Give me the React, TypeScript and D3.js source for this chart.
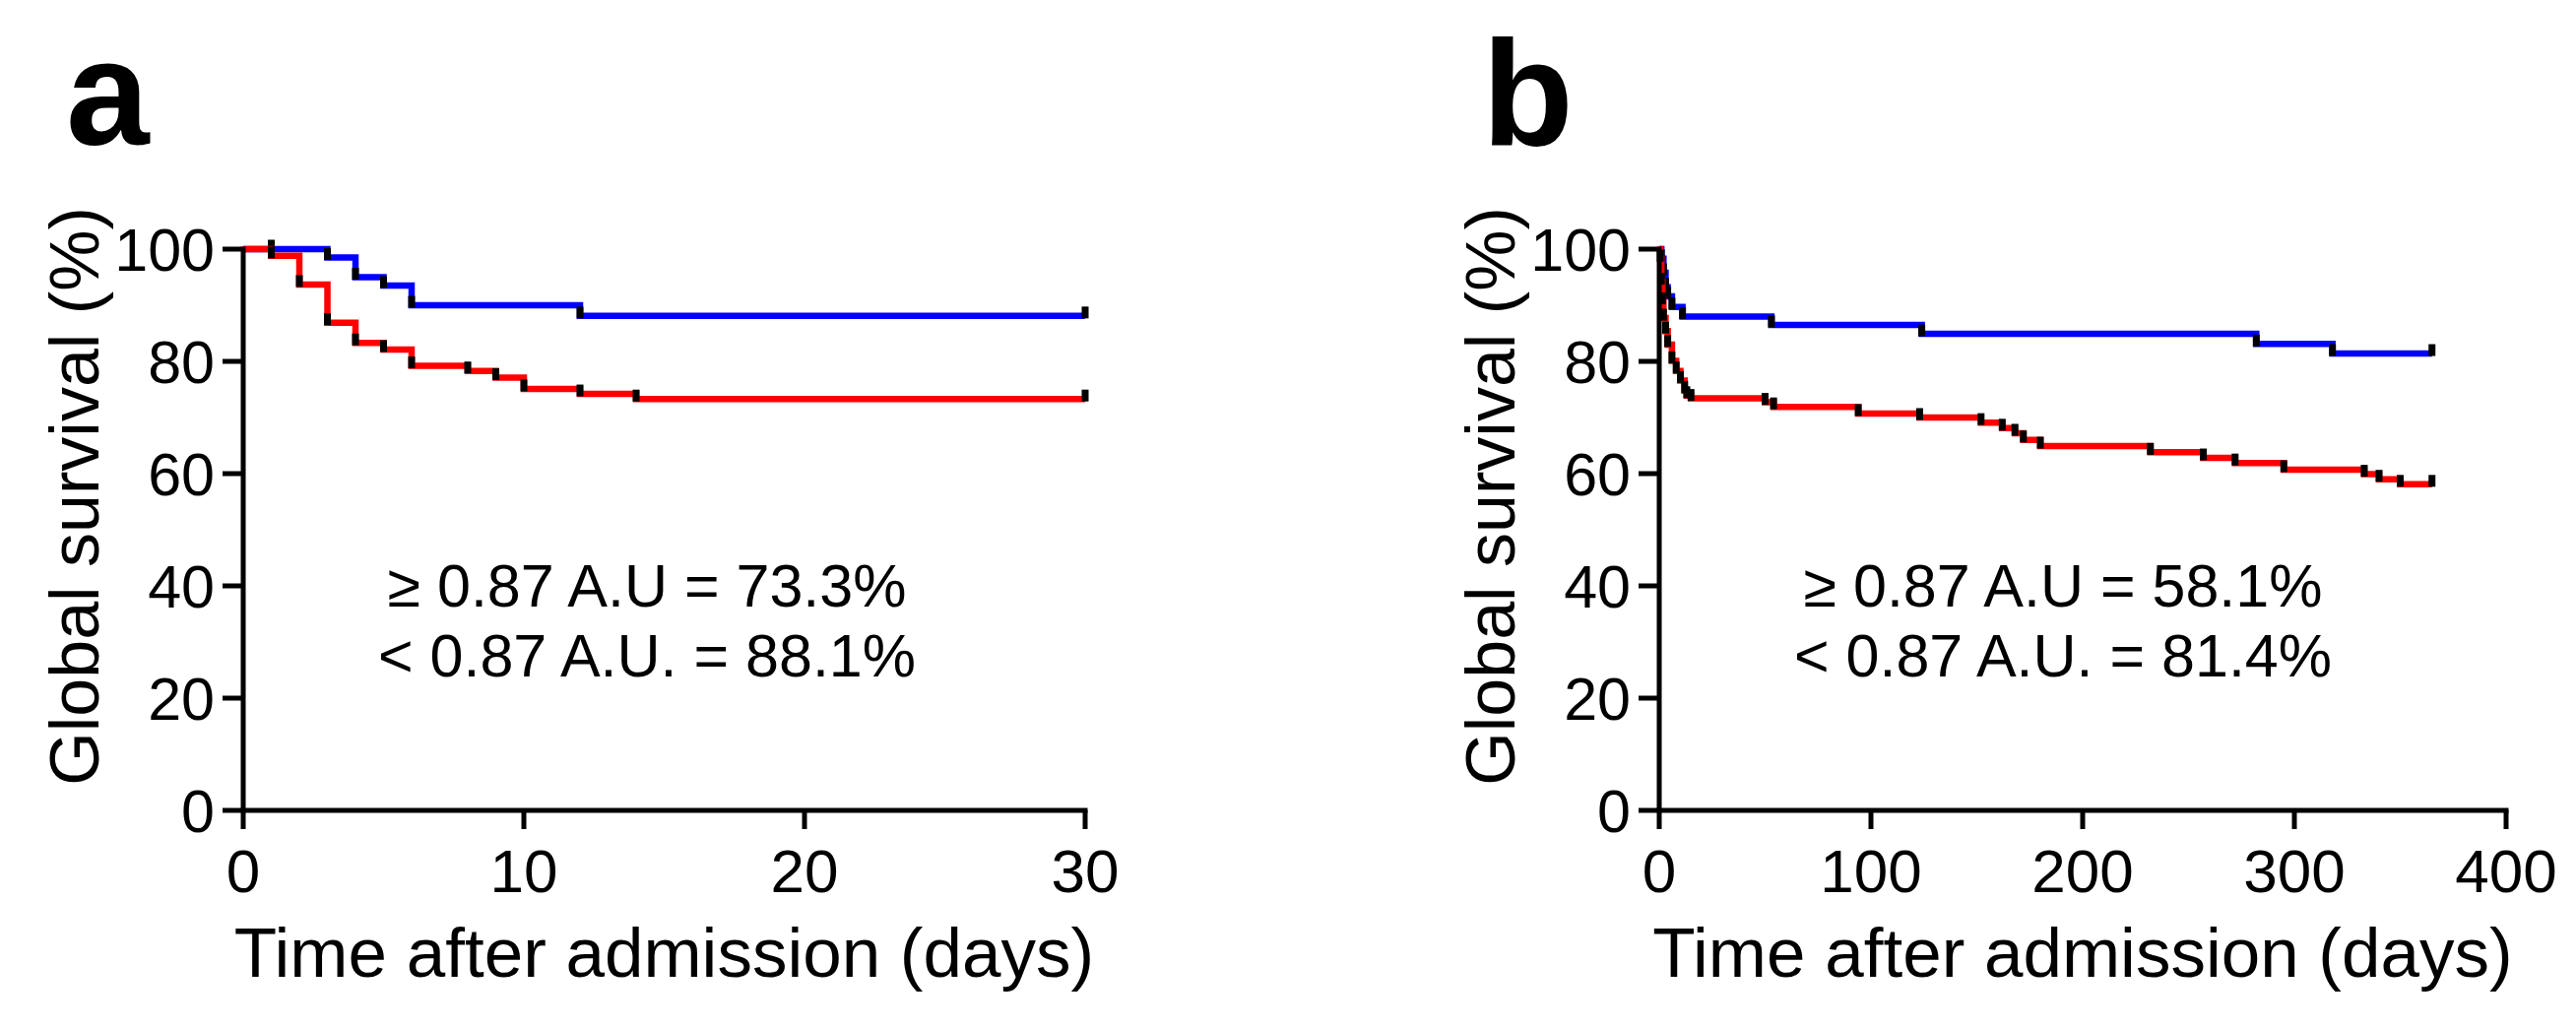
import React from "react";
import * as d3 from "d3";

// ---------- DATA ----------
const yTicks = [0, 20, 40, 60, 80, 100];
const xTicksA = [0, 10, 20, 30];
const xTicksB = [0, 100, 200, 300, 400];

// Panel a (30 days)
const blueADays = [0, 1, 3, 4, 5, 6, 12, 30];
const blueAVals = [100, 100, 98.5, 95.0, 93.5, 90.0, 88.1, 88.1];
const redADays = [0, 1, 2, 3, 4, 5, 6, 8, 9, 10, 12, 14, 30];
const redAVals = [100, 98.8, 93.7, 86.9, 83.3, 82.1, 79.2, 78.3, 77.1, 75.1, 74.2, 73.3, 73.3];

// Panel b (365 days)
const blueBDays = [0, 1, 2, 3, 4, 6, 11, 53, 124, 282, 318, 365];
const blueBVals = [100, 98.3, 95.8, 93.2, 91.6, 89.7, 88.0, 86.5, 84.9, 83.1, 81.4, 81.4];
const redBDays = [0, 0.5, 1, 1.5, 2, 3, 4, 6, 8, 10, 12, 13, 15, 50, 54, 94, 123, 152, 162, 168, 172, 180, 232, 257, 272, 295, 333, 340, 350, 365];
const redBVals = [100, 98.2, 94.1, 90.6, 87.7, 85.4, 83.0, 80.1, 78.3, 76.6, 74.8, 73.9, 73.4, 72.7, 71.9, 70.7, 70.0, 69.1, 68.1, 67.2, 66.0, 64.9, 63.8, 62.8, 61.9, 60.7, 59.9, 59.0, 58.1, 58.1];

const panelLetters = ["a", "b"];
const annotA = ["\u2265 0.87 A.U = 73.3%", "< 0.87 A.U. = 88.1%"];
const annotB = ["\u2265 0.87 A.U = 58.1%", "< 0.87 A.U. = 81.4%"];
const yTitle = "Global survival (%)";
const xTitle = "Time after admission (days)";

const FONT = "'Liberation Sans', Arial, Helvetica, sans-serif";

type PanelProps = {
  letter: string;
  x0: number;
  x1: number;
  xMax: number;
  xTicks: number[];
  blueDays: number[];
  blueVals: number[];
  redDays: number[];
  redVals: number[];
  annot: string[];
};

const Y_TOP = 253;
const Y_BOT = 823;

function Panel(p: PanelProps) {
  const x = d3.scaleLinear().domain([0, p.xMax]).range([p.x0, p.x1]);
  const y = d3.scaleLinear().domain([0, 100]).range([Y_BOT, Y_TOP]);
  const line = d3
    .line<[number, number]>()
    .x((d) => x(d[0]))
    .y((d) => y(d[1]))
    .curve(d3.curveStepAfter);

  const blue: [number, number][] = p.blueDays.map((d, i) => [d, p.blueVals[i]]);
  const red: [number, number][] = p.redDays.map((d, i) => [d, p.redVals[i]]);

  const marks = (pts: [number, number][]) =>
    pts.slice(1).map((d, i) => (
      <rect key={i} x={x(d[0]) - 3.5} y={y(d[1]) - 9.5} width={7} height={12} fill="#000" />
    ));

  const plotCenter = (p.x0 + p.x1) / 2;
  const annotX = p.x0 + 410;

  return (
    <g>
      <text x={p.x0 - 180} y={147} fontFamily={FONT} fontWeight="bold" fontSize={152} fill="#000">
        {p.letter}
      </text>
      {/* y title */}
      <text
        transform={`translate(${p.x0 - 147},504) rotate(-90)`}
        textAnchor="middle"
        fontFamily={FONT}
        fontSize={70}
        fill="#000"
      >
        {yTitle}
      </text>
      {/* x title */}
      <text x={plotCenter} y={992} textAnchor="middle" fontFamily={FONT} fontSize={71} fill="#000">
        {xTitle}
      </text>

      {/* curves */}
      <path d={line(blue) || ""} fill="none" stroke="#0000ff" strokeWidth={6.5} />
      {marks(blue)}
      <path d={line(red) || ""} fill="none" stroke="#ff0000" strokeWidth={6.5} />
      {marks(red)}

      {/* axes */}
      <line x1={x(0)} x2={x(0)} y1={y(100) - 2.5} y2={y(0)} stroke="#000" strokeWidth={5} />
      <line x1={x(0) - 2.5} x2={x(p.xMax) + 2.5} y1={y(0)} y2={y(0)} stroke="#000" strokeWidth={5} />
      {yTicks.map((t) => (
        <g key={"y" + t}>
          <line x1={x(0) - 21} x2={x(0)} y1={y(t)} y2={y(t)} stroke="#000" strokeWidth={5} />
          <text
            x={x(0) - 29}
            y={y(t) + 22}
            textAnchor="end"
            fontFamily={FONT}
            fontSize={61}
            fill="#000"
          >
            {t}
          </text>
        </g>
      ))}
      {p.xTicks.map((t) => (
        <g key={"x" + t}>
          <line x1={x(t)} x2={x(t)} y1={y(0)} y2={y(0) + 19} stroke="#000" strokeWidth={5} />
          <text x={x(t)} y={906} textAnchor="middle" fontFamily={FONT} fontSize={62} fill="#000">
            {t}
          </text>
        </g>
      ))}

      {/* annotation */}
      {p.annot.map((s, i) => (
        <text
          key={i}
          x={annotX}
          y={616 + i * 71}
          textAnchor="middle"
          fontFamily={FONT}
          fontSize={61}
          fill="#000"
        >
          {s}
        </text>
      ))}
    </g>
  );
}

export default function App() {
  return (
    <svg
      width={2616}
      height={1044}
      viewBox="0 0 2616 1044"
      style={{ position: "absolute", left: 0, top: 0, background: "#fff" }}
    >
      <rect x={0} y={0} width={2616} height={1044} fill="#fff" />
      <Panel
        letter={panelLetters[0]}
        x0={247}
        x1={1102}
        xMax={30}
        xTicks={xTicksA}
        blueDays={blueADays}
        blueVals={blueAVals}
        redDays={redADays}
        redVals={redAVals}
        annot={annotA}
      />
      <Panel
        letter={panelLetters[1]}
        x0={1685}
        x1={2545}
        xMax={400}
        xTicks={xTicksB}
        blueDays={blueBDays}
        blueVals={blueBVals}
        redDays={redBDays}
        redVals={redBVals}
        annot={annotB}
      />
    </svg>
  );
}
